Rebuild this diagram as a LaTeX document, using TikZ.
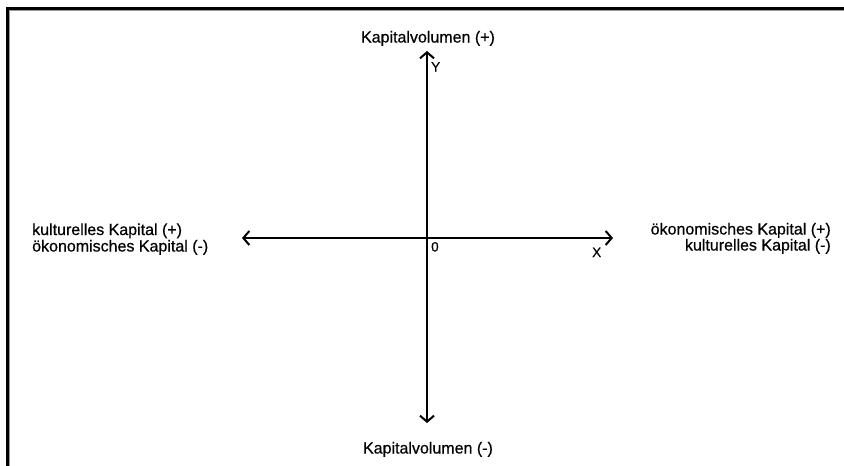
\documentclass[tikz,border=0pt]{standalone}
\usepackage{fontspec}
\setmainfont{Liberation Sans}
\newfontfamily\lblfont{Liberation Sans}[FakeBold=0.5]
\usetikzlibrary{arrows.meta}
\begin{document}
\begin{tikzpicture}[x=1pt,y=-1pt,
  axis/.style={line width=2pt,{Straight Barb[length=6pt,width=14pt,line width=2pt]}-{Straight Barb[length=6pt,width=14pt,line width=2pt]}},
  lbl/.style={inner sep=0pt,font=\lblfont\fontsize{16}{17}\selectfont},
  axlbl/.style={inner sep=0pt,font=\lblfont\fontsize{13.5}{15}\selectfont},
  framefill/.style={fill=black},
  shadowfill/.style={fill=black!40}]
\useasboundingbox (0,0) rectangle (844,466);
\fill[white] (0,0) rectangle (844,466);
% frame
\fill[shadowfill] (9,10) rectangle (844,11.2);
\fill[shadowfill] (9,10) rectangle (10.2,466);
\fill[framefill] (6,6.5) rectangle (844,10);
\fill[framefill] (6,6.5) rectangle (9.3,466);
% axis end points
\coordinate (top) at (427,51);
\coordinate (bottom) at (427,423);
\coordinate (left) at (242,238);
\coordinate (right) at (613,238);
\draw[axis] (bottom) -- (top);
\draw[axis] (left) -- (right);
% labels
\node[lbl,anchor=base] (kvp) at (428,42.5) {Kapitalvolumen (+)};
\node[lbl,anchor=base] (kvm) at (428,453.5) {Kapitalvolumen (-)};
\node[lbl,anchor=base west] (l1) at (32,235) {kulturelles Kapital (+)};
\node[lbl,anchor=base west] (l2) at (32,251.5) {ökonomisches Kapital (-)};
\node[lbl,anchor=base east] (r1) at (831,234.5) {ökonomisches Kapital (+)};
\node[lbl,anchor=base east] (r2) at (831,250.5) {kulturelles Kapital (-)};
\node[axlbl,anchor=base west] (ylbl) at (431,71.5) {Y};
\node[axlbl,anchor=base west] (olbl) at (431,251.5) {0};
\node[axlbl,anchor=base west] (xlbl) at (592,257) {X};
\end{tikzpicture}
\end{document}
